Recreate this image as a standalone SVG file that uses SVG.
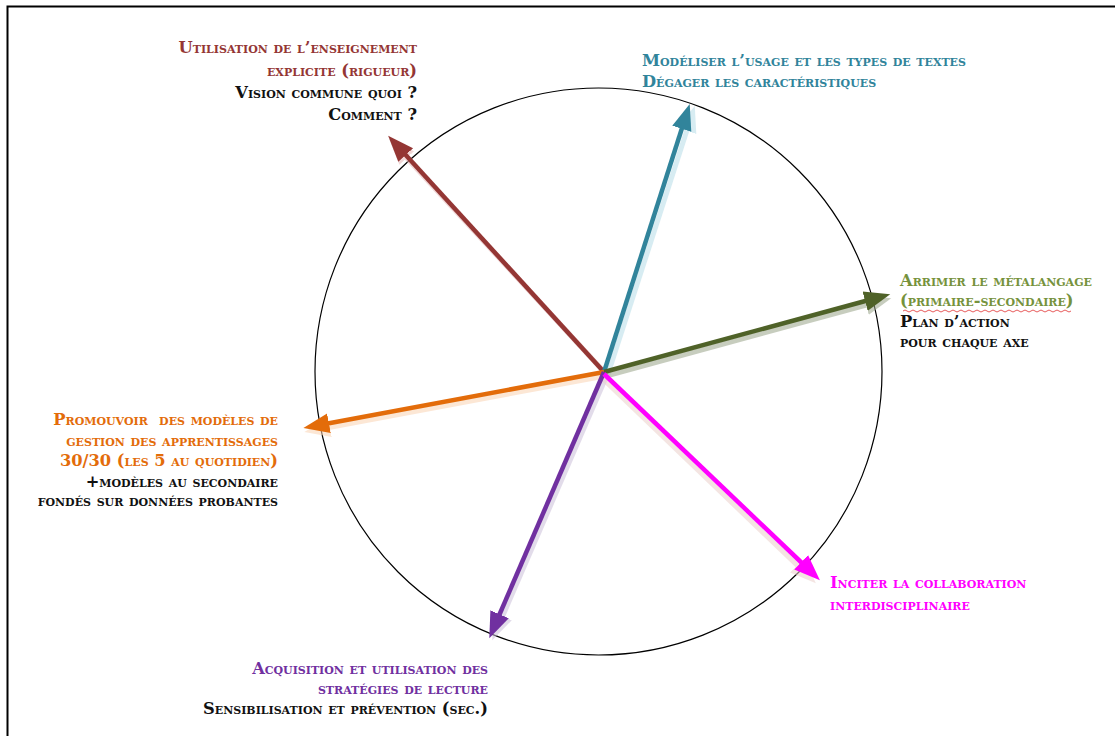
<svg xmlns="http://www.w3.org/2000/svg" width="1115" height="736" viewBox="0 0 1115 736">
<defs>
<style>
.t{font-family:"DejaVu Serif","Liberation Serif",serif;font-weight:bold;font-size:16.3px;font-variant:small-caps}
.r{text-anchor:end}
.k{fill:#111}
.brown{fill:#943634}.teal{fill:#31849b}.green{fill:#76923c}.orange{fill:#e36c0a}.purple{fill:#7030a0}.mag{fill:#ff00ff}
.ln{stroke-width:4.5;fill:none}
.sh{stroke-width:5;fill:none;opacity:0.55}
</style>
<marker id="ab" markerUnits="userSpaceOnUse" markerWidth="30" markerHeight="24" refX="0" refY="10" orient="auto" viewBox="-4 0 30 20"><path d="M-4,0 L22,10 L-4,20 z" fill="#943634"/></marker>
<marker id="at" markerUnits="userSpaceOnUse" markerWidth="30" markerHeight="24" refX="0" refY="10" orient="auto" viewBox="-4 0 30 20"><path d="M-4,0 L22,10 L-4,20 z" fill="#31849b"/></marker>
<marker id="ag" markerUnits="userSpaceOnUse" markerWidth="30" markerHeight="24" refX="0" refY="10" orient="auto" viewBox="-4 0 30 20"><path d="M-4,0 L22,10 L-4,20 z" fill="#4f6228"/></marker>
<marker id="ao" markerUnits="userSpaceOnUse" markerWidth="30" markerHeight="24" refX="0" refY="10" orient="auto" viewBox="-4 0 30 20"><path d="M-4,0 L22,10 L-4,20 z" fill="#e36c0a"/></marker>
<marker id="ap" markerUnits="userSpaceOnUse" markerWidth="30" markerHeight="24" refX="0" refY="10" orient="auto" viewBox="-4 0 30 20"><path d="M-4,0 L22,10 L-4,20 z" fill="#7030a0"/></marker>
<marker id="am" markerUnits="userSpaceOnUse" markerWidth="30" markerHeight="24" refX="0" refY="10" orient="auto" viewBox="-4 0 30 20"><path d="M-4,0 L22,10 L-4,20 z" fill="#ff00ff"/></marker>
<marker id="sb" markerUnits="userSpaceOnUse" markerWidth="30" markerHeight="24" refX="0" refY="10" orient="auto" viewBox="-4 0 30 20"><path d="M-4,0 L22,10 L-4,20 z" fill="#e6b8b7"/></marker>
<marker id="st" markerUnits="userSpaceOnUse" markerWidth="30" markerHeight="24" refX="0" refY="10" orient="auto" viewBox="-4 0 30 20"><path d="M-4,0 L22,10 L-4,20 z" fill="#b7dde8"/></marker>
<marker id="sg" markerUnits="userSpaceOnUse" markerWidth="30" markerHeight="24" refX="0" refY="10" orient="auto" viewBox="-4 0 30 20"><path d="M-4,0 L22,10 L-4,20 z" fill="#9aa58a"/></marker>
<marker id="so" markerUnits="userSpaceOnUse" markerWidth="30" markerHeight="24" refX="0" refY="10" orient="auto" viewBox="-4 0 30 20"><path d="M-4,0 L22,10 L-4,20 z" fill="#fbd4b4"/></marker>
<marker id="sp" markerUnits="userSpaceOnUse" markerWidth="30" markerHeight="24" refX="0" refY="10" orient="auto" viewBox="-4 0 30 20"><path d="M-4,0 L22,10 L-4,20 z" fill="#ccc0da"/></marker>
<marker id="sm" markerUnits="userSpaceOnUse" markerWidth="30" markerHeight="24" refX="0" refY="10" orient="auto" viewBox="-4 0 30 20"><path d="M-4,0 L22,10 L-4,20 z" fill="#ecd0cc"/></marker>
</defs>
<rect width="1115" height="736" fill="#fff"/>
<path d="M7.5,736 V6.5 H1115" fill="none" stroke="#000" stroke-width="2"/>
<circle id="circle" cx="598.5" cy="371.5" r="283.5" fill="none" stroke="#000" stroke-width="1.2"/>
<g id="connectors">
<line class="sh" x1="607" y1="375" x2="404" y2="155" stroke="#e6b8b7" marker-end="url(#sb)"/>
<line class="sh" x1="608" y1="374" x2="688" y2="127" stroke="#b7dde8" marker-end="url(#st)"/>
<line class="sh" x1="606" y1="376" x2="870" y2="304" stroke="#9aa58a" marker-end="url(#sg)"/>
<line class="sh" x1="605" y1="376" x2="326" y2="428" stroke="#fbd4b4" marker-end="url(#so)"/>
<line class="sh" x1="607" y1="375" x2="501" y2="620" stroke="#ccc0da" marker-end="url(#sp)"/>
<line class="sh" x1="601" y1="377" x2="800" y2="568" stroke="#ecd0cc" marker-end="url(#sm)"/>
<line class="ln" x1="604" y1="372" x2="403" y2="152" stroke="#943634" marker-end="url(#ab)"/>
<line class="ln" x1="604" y1="372" x2="683" y2="125" stroke="#31849b" marker-end="url(#at)"/>
<line class="ln" x1="604" y1="372" x2="869" y2="300" stroke="#4f6228" marker-end="url(#ag)"/>
<line class="ln" x1="604" y1="372" x2="325" y2="424" stroke="#e36c0a" marker-end="url(#ao)"/>
<line class="ln" x1="604" y1="372" x2="498" y2="618" stroke="#7030a0" marker-end="url(#ap)"/>
<line class="ln" x1="604" y1="374" x2="804" y2="565" stroke="#ff00ff" marker-end="url(#am)"/>
</g>
<g id="n-explicite" class="t r">
<text x="417" y="53" class="brown">Utilisation de l’enseignement</text>
<text x="417" y="76" class="brown">explicite (rigueur)</text>
<text x="417" y="98" class="k">Vision commune quoi ?</text>
<text x="417" y="120" class="k">Comment ?</text>
</g>
<g id="n-modeliser" class="t">
<text x="642" y="66" class="teal">Modéliser l’usage et les types de textes</text>
<text x="642" y="87" class="teal">Dégager les caractéristiques</text>
</g>
<g id="n-metalangage" class="t">
<text x="900" y="286" class="green">Arrimer le métalangage</text>
<text x="900" y="306" class="green">(primaire-secondaire)</text>
<path d="M903,311 q2,-2 4,0 t4,0 t4,0 t4,0 t4,0 t4,0 t4,0 t4,0 t4,0 t4,0 t4,0 t4,0 t4,0 t4,0 t4,0 t4,0 t4,0 t4,0 t4,0 t4,0 t4,0 t4,0 t4,0 t4,0 t4,0 t4,0 t4,0 t4,0 t4,0 t4,0 t4,0 t4,0 t4,0 t4,0 t4,0 t4,0 t4,0 t4,0 t4,0 t4,0 t4,0 t4,0" fill="none" stroke="#e03030" stroke-width="0.8"/>
<text x="900" y="327" class="k">Plan d’action</text>
<text x="900" y="347" class="k">pour chaque axe</text>
</g>
<g id="n-promouvoir" class="t r">
<text x="278" y="425" class="orange">Promouvoir&#160; des modèles de</text>
<text x="278" y="446" class="orange">gestion des apprentissages</text>
<text x="278" y="466" class="orange">30/30 (les 5 au quotidien)</text>
<text x="278" y="487" class="k">+modèles au secondaire</text>
<text x="278" y="506" class="k">fondés sur données probantes</text>
</g>
<g id="n-strategies" class="t r">
<text x="488" y="674" class="purple">Acquisition et utilisation des</text>
<text x="488" y="694" class="purple">stratégies de lecture</text>
<text x="488" y="714" class="k">Sensibilisation et prévention (sec.)</text>
</g>
<g id="n-collaboration" class="t">
<text x="830" y="588" class="mag">Inciter la collaboration</text>
<text x="830" y="610" class="mag">interdisciplinaire</text>
</g>
</svg>
